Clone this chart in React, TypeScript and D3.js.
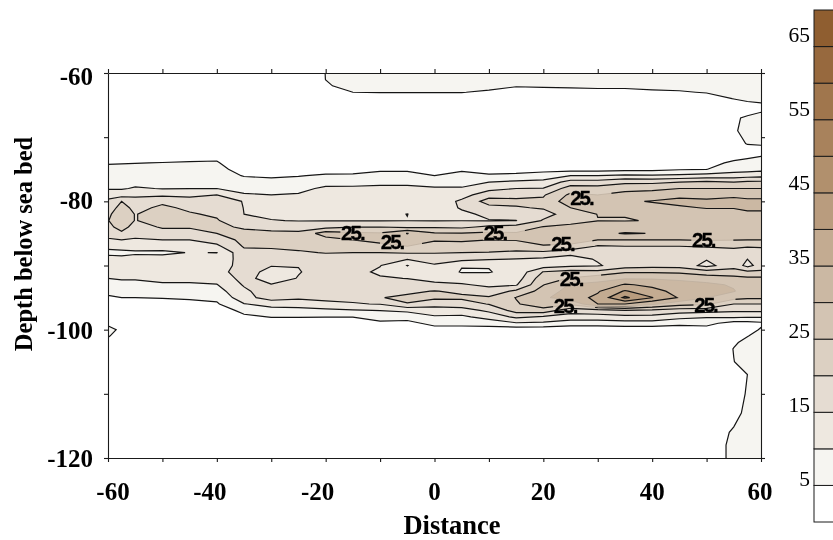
import { useEffect, useRef } from 'react';
import * as d3 from 'd3';

const xGrid = [-60, -57.5, -55, -50, -45, -40, -35, -30, -25, -20, -15, -10, -5, 0, 5, 10, 15, 20, 25, 30, 35, 40, 45, 50, 55, 57.5, 60];

const depths = [
  -60, -61, -62, -63, -64, -65, -66, -67, -69, -71, -72, -73, -74, -75, -76, -77, -78, -79, -80,
  -81, -82, -83, -84, -85, -86, -87, -88, -89, -90, -91, -92, -93, -94, -95, -96, -97, -98, -99,
  -100, -101, -102, -103, -105, -107, -110, -113, -116, -118, -120,
];

// one row per depth, one value per xGrid entry
const grid = [
  [0, 0, 0, 0, 0, 0, 0, 0, 0, 5.1, 8, 8, 8, 8, 8, 8, 8, 8, 8, 8, 8, 8, 8, 8, 8, 8, 8],
  [0, 0, 0, 0, 0, 0, 0, 0, 0, 5.05, 7.5, 7.5, 7.5, 7.5, 7.5, 7.5, 7, 7, 7, 7, 7, 7.5, 7.5, 7.5, 8, 8, 8],
  [0, 0, 0, 0, 0, 0, 0, 0, 0, 4.5, 6.5, 6.5, 6.5, 6.5, 6.5, 6, 5.2, 5.3, 5.5, 5.7, 5.7, 6, 6, 6.5, 7.5, 8, 7.5],
  [0, 0, 0, 0, 0, 0, 0, 0, 0, 3, 5, 5.1, 5.1, 5.1, 5.1, 4.5, 3.8, 4, 4, 4, 4, 4.4, 4.7, 5.2, 6.5, 7, 7],
  [0, 0, 0, 0, 0, 0, 0, 0, 0, 1, 3, 3, 3, 3, 3, 2.5, 2, 2, 2, 2, 2, 2.5, 3, 3.5, 5.1, 5.8, 6],
  [0, 0, 0, 0, 0, 0, 0, 0, 0, 0, 1, 1, 1, 1, 1, 1, 1, 1, 1, 1, 1, 1, 1, 2, 3, 4, 4.5],
  [0, 0, 0, 0, 0, 0, 0, 0, 0, 0, 0, 0, 0, 0, 0, 0, 0, 0, 0, 0, 0, 0, 0, 1, 2.5, 3, 4.8],
  [0, 0, 0, 0, 0, 0, 0, 0, 0, 0, 0, 0, 0, 0, 0, 0, 0, 0, 0, 0, 0, 0, 0, 1, 4, 6, 6.5],
  [0, 0, 0, 0, 0, 0, 0, 0, 0, 0, 0, 0, 0, 0, 0, 0, 0, 0, 0, 0, 0, 0, 0, 1, 4.6, 6, 7],
  [0, 0, 0, 0, 0, 0, 0, 0, 0, 0, 0, 0, 0, 0, 0, 0, 0, 0, 0, 0, 0, 0, 0, 1, 3, 5.3, 5.7],
  [1, 1, 1, 1, 1.5, 1.5, 0, 0, 0, 0, 0, 0, 0, 0, 0, 0, 0, 0, 0, 0, 0, 0, 0, 1, 1.5, 3, 3],
  [3, 3, 3, 3.2, 3.6, 4, 0.5, 0.5, 0.5, 0.5, 0.5, 0.5, 0.5, 0.5, 0.5, 0.5, 0.5, 0.5, 0.5, 0.5, 0.5, 0.5, 1, 2, 3.5, 4.5, 5],
  [4.7, 4.8, 4.9, 5.1, 5.3, 5.4, 1.5, 1.5, 1.5, 1.5, 1.5, 2, 2, 2, 2, 2, 2, 2, 1.5, 1.5, 1.5, 2, 2, 3.5, 5.8, 6, 6.5],
  [6, 6, 6, 6, 6, 6.5, 3, 3, 3.5, 3.5, 3.8, 4.5, 4.5, 4.8, 4.8, 3.5, 3.5, 3.5, 3, 3, 3.5, 3.5, 4.5, 4.9, 7.5, 8, 8.5],
  [7, 7, 7, 7, 7.5, 7.5, 4.7, 4.5, 4.8, 5.5, 5.5, 6, 6, 5, 5.4, 5.5, 5.8, 7, 10, 10, 11, 10.5, 11, 12, 12.5, 13, 13.5],
  [8, 8, 8.5, 8, 8.5, 8.5, 7, 6, 6.5, 8, 8.5, 9.5, 9.5, 8, 8, 10, 11, 11.5, 17, 17, 19, 19, 20, 21, 20, 21, 21],
  [9.5, 9.5, 10.5, 9.8, 9.9, 10, 8.5, 8, 8.5, 11, 10.8, 10.5, 10.5, 10.5, 10.5, 13.5, 15, 15.2, 22.5, 22, 23, 23.5, 25, 25, 25, 25, 25],
  [13, 13, 14, 14, 14, 15, 10.5, 10, 10.5, 12, 11.5, 11, 11, 11, 13, 18, 18, 19.5, 26, 25, 27, 28, 29, 28, 29, 28.5, 28.5],
  [16, 20, 17, 19, 17, 17, 14.8, 11.5, 11.5, 12.5, 12, 12, 12, 11.5, 16, 22, 21.5, 21, 28, 30, 29.5, 30.2, 31, 31, 31.5, 31, 31],
  [17, 22, 18.5, 21, 19, 18, 14.9, 13, 12.5, 13, 12.8, 13, 13.5, 12, 15.5, 18.5, 19.5, 20.5, 25, 28, 28, 29, 29.5, 30.2, 30.2, 31, 31],
  [19, 23, 19.8, 22, 20.5, 19.2, 15, 14, 13.5, 13.5, 13.5, 14, 15.05, 13, 14, 16, 16, 18, 22.5, 25.1, 25.2, 27, 28.5, 28.5, 28.5, 29, 29],
  [19.8, 23, 19.8, 22, 21, 20.5, 15.5, 15.2, 14.8, 14.8, 14.8, 14.8, 14.9, 14.8, 14.9, 14.8, 14.95, 20.5, 23, 24.9, 24.8, 25.2, 28, 28, 28, 28, 28],
  [18.5, 22, 18, 20.5, 20.5, 20.8, 19.5, 18.5, 18, 18.5, 19.8, 20, 19, 19.5, 19, 21, 22, 25.3, 26.5, 27, 28, 27, 28, 28, 28, 28, 28],
  [16.5, 19, 16.5, 18, 18, 20, 21, 21, 21, 27.5, 26, 25.5, 30.2, 25.5, 25.3, 26, 25.5, 30, 29.8, 29, 30.3, 29.9, 27, 27, 27, 27, 27],
  [14.5, 15, 14.5, 15, 15, 17, 21.5, 21.5, 22, 23, 25, 26, 27, 25.5, 25.8, 25, 25.3, 27.5, 27, 25.1, 25.1, 25.1, 25.1, 25.5, 25.2, 25.1, 25.1],
  [11, 11.5, 11, 11, 11.5, 14, 20.5, 20.8, 21, 22, 23, 24, 25, 23, 23, 22.5, 22.5, 24.5, 24, 19.5, 20, 20, 20, 20.5, 21, 20.5, 20.5],
  [9, 9, 9.6, 9.5, 10.1, 9.95, 18.5, 18.5, 19.5, 20.2, 20, 20, 20.5, 20.3, 20, 19.8, 19, 19, 16.5, 17, 17.5, 18, 18, 17, 18, 17, 18],
  [11.5, 11, 11, 11, 11.5, 12, 17, 16.5, 17, 18, 18, 17, 15.2, 17, 16.5, 15.5, 14.8, 14, 13, 15.5, 16.5, 17, 17, 15.3, 16.5, 15, 17],
  [12.5, 12.5, 12.5, 12.5, 13, 13, 16.5, 15.2, 15.1, 17, 17, 15.2, 9.9, 14.5, 10.2, 10.2, 12, 12.5, 14, 14.5, 17.5, 18, 18, 13.5, 18, 13.5, 17],
  [12, 12.5, 12.5, 13, 13.5, 13.5, 17, 13.5, 14.8, 16.5, 16.5, 14.2, 11.5, 13, 9.7, 9.8, 11.5, 20.2, 22, 21.5, 24.5, 24.5, 24, 22, 22, 21, 21],
  [10, 10.5, 10.5, 12, 12, 12, 16.5, 13, 15.2, 16.5, 16.5, 15.5, 14.9, 13.5, 12.5, 11.5, 12.5, 23, 25.3, 28, 29.5, 29.5, 29, 28, 26.5, 26, 26],
  [8, 8.5, 8.5, 9, 9, 9.8, 15.5, 15.2, 16, 16.5, 16.5, 17, 17, 16, 15.5, 14, 14.5, 24.8, 30.5, 31.5, 35.5, 34, 32, 31, 29.5, 28, 28],
  [6, 6.5, 6.5, 7, 7, 8, 14, 18, 16, 16.5, 16.5, 18.5, 19, 20.2, 19, 17, 21, 27, 32, 34.5, 40.5, 36.5, 33.5, 32, 30.3, 28, 28],
  [4.5, 5, 5, 5.3, 5.5, 6, 13, 17.5, 16, 16, 16, 19.8, 21, 21, 21, 20.5, 25.2, 29, 33, 36, 46, 40.2, 34.5, 30.2, 27, 26, 26],
  [3, 3, 3, 3, 4, 4.5, 9.8, 11.5, 12, 14, 14.7, 15.2, 19.8, 17, 17.5, 20.3, 24.5, 28, 26, 35, 35, 31, 27, 26, 20, 20, 20],
  [2, 2, 2, 2, 2, 2, 6.5, 8.5, 8.5, 8.8, 9.5, 10.2, 11, 12.5, 13, 16, 22, 23, 17, 18, 20, 19, 17.5, 17, 16, 16, 16],
  [1, 1, 1, 1, 1, 1, 4, 5.2, 5.2, 5.1, 5.1, 6, 7, 9.5, 9, 12, 16, 14.5, 13, 13, 13.5, 13.5, 11.5, 10.5, 11, 10.5, 10.5],
  [3, 1, 1, 1, 1, 1, 2, 3, 3, 3, 3, 4.5, 3.5, 6.5, 6.5, 7, 9.5, 9, 7, 7, 8, 8, 6.5, 6.5, 3, 3, 4],
  [8, 3, 0, 0, 0, 0, 0, 0, 0, 0, 0, 2, 1.5, 3, 3, 3, 2, 2, 2, 2, 2, 2, 2, 3, 2, 3, 5.5],
  [5.5, 2, 0, 0, 0, 0, 0, 0, 0, 0, 0, 0, 0, 0, 0, 0, 0, 0, 0, 0, 0, 0, 0, 1, 3, 4.9, 6],
  [3, 0, 0, 0, 0, 0, 0, 0, 0, 0, 0, 0, 0, 0, 0, 0, 0, 0, 0, 0, 0, 0, 0, 1, 4.6, 5.8, 6],
  [0, 0, 0, 0, 0, 0, 0, 0, 0, 0, 0, 0, 0, 0, 0, 0, 0, 0, 0, 0, 0, 0, 0, 2, 5.1, 6, 6],
  [0, 0, 0, 0, 0, 0, 0, 0, 0, 0, 0, 0, 0, 0, 0, 0, 0, 0, 0, 0, 0, 0, 0, 2, 4.95, 6, 6],
  [0, 0, 0, 0, 0, 0, 0, 0, 0, 0, 0, 0, 0, 0, 0, 0, 0, 0, 0, 0, 0, 0, 0, 1, 3, 5, 6],
  [0, 0, 0, 0, 0, 0, 0, 0, 0, 0, 0, 0, 0, 0, 0, 0, 0, 0, 0, 0, 0, 0, 0, 1, 3.5, 5.3, 6],
  [0, 0, 0, 0, 0, 0, 0, 0, 0, 0, 0, 0, 0, 0, 0, 0, 0, 0, 0, 0, 0, 0, 0, 2, 4, 5.8, 6],
  [0, 0, 0, 0, 0, 0, 0, 0, 0, 0, 0, 0, 0, 0, 0, 0, 0, 0, 0, 0, 0, 0, 0, 3, 5.4, 6, 6],
  [0, 0, 0, 0, 0, 0, 0, 0, 0, 0, 0, 0, 0, 0, 0, 0, 0, 0, 0, 0, 0, 0, 0, 3, 5.8, 6, 6],
  [0, 0, 0, 0, 0, 0, 0, 0, 0, 0, 0, 0, 0, 0, 0, 0, 0, 0, 0, 0, 0, 0, 0, 3, 5.8, 6, 6],
];

const levels = [5, 10, 15, 20, 25, 30, 35, 40, 45];
const bandColors = [
  '#ffffff', '#f6f5f1', '#eee8e0', '#e5dcd2', '#dcd0c2', '#d3c4b3', '#cbb8a3',
  '#c3ab91', '#b99c7e', '#b1906d', '#a8825c', '#a0764d', '#97693e', '#8f5e30',
];

const xTickLabels = ['-60', '-40', '-20', '0', '20', '40', '60'];
const yTickLabels = ['-60', '-80', '-100', '-120'];
const legendLabels = [5, 15, 25, 35, 45, 55, 65];

// [distance, depth] of the inline "25." labels
const contourLabels = [
  [-15.1, -84.8], [-7.8, -86.3], [11.1, -84.8], [23.5, -86.6], [27, -79.4],
  [25.1, -92.1], [24, -96.3], [49.4, -86], [49.8, -96.1],
];

export default function App() {
  const svgRef = useRef<SVGSVGElement>(null);

  useEffect(() => {
    const width = 833;
    const height = 540;
    const plot = { left: 108, right: 761, top: 73, bottom: 458 };

    const svg = d3.select(svgRef.current);
    svg.selectAll('*').remove();
    svg.attr('width', width).attr('height', height);

    const x = d3.scaleLinear().domain([-60, 60]).range([plot.left, plot.right]);
    const y = d3.scaleLinear().domain([-60, -120]).range([plot.top, plot.bottom]);

    // the grid is not evenly spaced, so grid index -> data is piecewise
    const colToX = d3.scaleLinear().domain(xGrid.map((_, i) => i)).range(xGrid);
    const rowToDepth = d3.scaleLinear().domain(depths.map((_, i) => i)).range(depths);

    const contours = d3.contours()
      .size([xGrid.length, depths.length])
      .thresholds(levels)(grid.flat());

    const path = d3.geoPath(d3.geoTransform({
      point(px, py) {
        this.stream.point(x(colToX(px - 0.5)), y(rowToDepth(py - 0.5)));
      },
    }));

    const defs = svg.append('defs');
    defs.append('clipPath').attr('id', 'plot-clip')
      .append('rect')
      .attr('x', plot.left).attr('y', plot.top)
      .attr('width', plot.right - plot.left).attr('height', plot.bottom - plot.top);

    // gaps in the 25 line next to its labels
    const mask25 = defs.append('mask').attr('id', 'gap-25').attr('maskUnits', 'userSpaceOnUse')
      .attr('x', 0).attr('y', 0).attr('width', width).attr('height', height);
    mask25.append('rect').attr('width', width).attr('height', height).attr('fill', '#fff');
    contourLabels.forEach(([lx, ly]) => {
      mask25.append('rect')
        .attr('x', x(lx) - 12).attr('y', y(ly) - 8)
        .attr('width', 42).attr('height', 16)
        .attr('fill', '#000');
    });

    // the lower 30 line is only drawn faintly
    const mask30 = defs.append('mask').attr('id', 'gap-30').attr('maskUnits', 'userSpaceOnUse')
      .attr('x', 0).attr('y', 0).attr('width', width).attr('height', height);
    mask30.append('rect').attr('width', width).attr('height', height).attr('fill', '#fff');
    mask30.append('rect')
      .attr('x', x(14)).attr('y', y(-91))
      .attr('width', x(58) - x(14)).attr('height', y(-96.4) - y(-91))
      .attr('fill', '#000');

    const g = svg.append('g').attr('clip-path', 'url(#plot-clip)');

    contours.forEach((c, i) => {
      g.append('path').attr('d', path(c)).attr('fill', bandColors[i + 1]).attr('stroke', 'none');
    });

    contours.forEach(c => {
      const gapped = c.value === 25 || c.value === 30;
      if (gapped) {
        g.append('path').attr('d', path(c))
          .attr('fill', 'none')
          .attr('stroke', '#bcae9d')
          .attr('stroke-width', 0.7);
      }
      const line = g.append('g');
      if (gapped) line.attr('mask', `url(#gap-${c.value})`);
      line.append('path').attr('d', path(c))
        .attr('fill', 'none')
        .attr('stroke', '#151515')
        .attr('stroke-width', 1.2);
    });

    // frame and outward ticks on all four sides
    const xTicks = d3.range(-60, 61, 10);
    const yTicks = d3.range(-60, -121, -10);
    const axes = [
      { axis: d3.axisBottom(x).tickValues(xTicks), at: [0, plot.bottom] },
      { axis: d3.axisTop(x).tickValues(xTicks), at: [0, plot.top] },
      { axis: d3.axisLeft(y).tickValues(yTicks), at: [plot.left, 0] },
      { axis: d3.axisRight(y).tickValues(yTicks), at: [plot.right, 0] },
    ];
    axes.forEach(({ axis, at }) => {
      const a = svg.append('g')
        .attr('transform', `translate(${at[0]},${at[1]})`)
        .call(axis.tickFormat(() => '').tickSizeInner(4).tickSizeOuter(0));
      a.selectAll('path, line').attr('stroke', '#1a1a1a').attr('stroke-width', 1.1);
    });

    // inline labels
    contourLabels.forEach(([lx, ly]) => {
      svg.append('text')
        .attr('x', x(lx)).attr('y', y(ly) + 7.5)
        .attr('text-anchor', 'middle')
        .attr('font-family', '"Liberation Sans", Arial, sans-serif')
        .attr('font-weight', 700)
        .attr('font-size', 20.5)
        .attr('letter-spacing', -2)
        .attr('fill', '#000')
        .attr('stroke', '#000')
        .attr('stroke-width', 0.3)
        .text('25.');
    });

    const serif = '"Liberation Serif", "Times New Roman", serif';

    // negative labels sit a little left of their tick in the original
    const xLabelShift = [5, -7, -8, 0, 0, 0, -1];
    xTickLabels.forEach((t, i) => {
      svg.append('text')
        .attr('x', x(+t) + xLabelShift[i]).attr('y', 500)
        .attr('text-anchor', 'middle')
        .attr('font-family', serif).attr('font-weight', 700).attr('font-size', 25)
        .text(t);
    });
    const yLabelShift = [12, 8, 9, 9];
    yTickLabels.forEach((t, i) => {
      svg.append('text')
        .attr('x', 93).attr('y', y(+t) + yLabelShift[i])
        .attr('text-anchor', 'end')
        .attr('font-family', serif).attr('font-weight', 700).attr('font-size', 25)
        .text(t);
    });

    svg.append('text')
      .attr('x', 452).attr('y', 534)
      .attr('text-anchor', 'middle')
      .attr('font-family', serif).attr('font-weight', 700).attr('font-size', 26.5)
      .text('Distance');
    svg.append('text')
      .attr('transform', 'translate(32,244) rotate(-90)')
      .attr('text-anchor', 'middle')
      .attr('font-family', serif).attr('font-weight', 700).attr('font-size', 24.5)
      .text('Depth below sea bed');

    // colour key, runs off the right edge of the page
    const key = d3.scaleLinear().domain([0, 70]).range([522, 10]);
    const keyLabel = d3.scaleLinear().domain([5, 65]).range([486, 42]);
    bandColors.forEach((c, i) => {
      svg.append('rect')
        .attr('x', 814).attr('y', key((i + 1) * 5))
        .attr('width', 30).attr('height', key(i * 5) - key((i + 1) * 5))
        .attr('fill', c)
        .attr('stroke', '#1a1a1a')
        .attr('stroke-width', 1);
    });
    legendLabels.forEach(v => {
      svg.append('text')
        .attr('x', 810).attr('y', keyLabel(v))
        .attr('text-anchor', 'end')
        .attr('font-family', serif).attr('font-size', 21.5)
        .text(v);
    });
  }, []);

  return <svg ref={svgRef} style={{ position: 'fixed', left: 0, top: 0, display: 'block' }} />;
}
